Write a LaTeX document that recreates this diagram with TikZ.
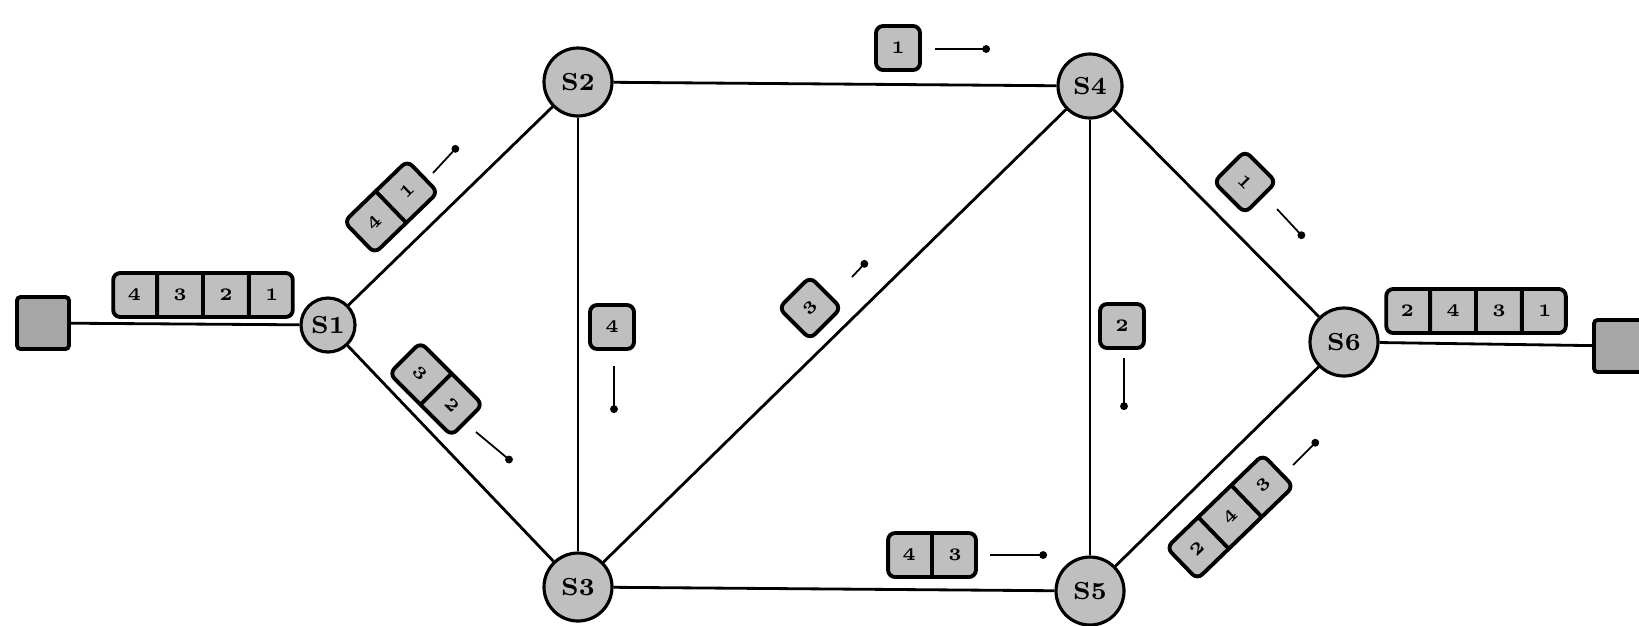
\documentclass[tikz,border=0pt]{standalone}
\usetikzlibrary{arrows.meta, positioning, shapes.multipart}

\begin{document}
\begin{tikzpicture}[
    x=0.1mm, y=-0.1mm,
    font=\scriptsize\bfseries,
    % Stations and switches
    switch/.style={draw, circle, fill=black!25, line width=0.9pt, minimum size=6.8mm, inner sep=0pt},
    host/.style  ={draw, fill=black!35, line width=1.1pt, rounded corners=1pt, minimum size=5.2mm},
    % Packets
    pkt/.style   ={draw, fill=black!25, line width=1.1pt, rounded corners=2pt, minimum size=4.4mm,
                   inner sep=0pt, font=\tiny\bfseries},
    pkts/.style  ={pkt, rectangle split, rectangle split horizontal, rectangle split parts=#1,
                   text width=4.2mm, align=center, minimum height=4.4mm},
    % Links and motion marks
    link/.style  ={line width=0.8pt},
    move/.style  ={line width=0.5pt, -{Circle[length=2.2pt]}}
]
\useasboundingbox (0,0) rectangle (1639,625);

% --------------------------- Network ---------------------------------
\node[host]   (src) at (43,323)  {};
\node[switch, minimum size=5.4mm] (s1) at (328,325) {S1};
\node[switch] (s2)  at (578,82)  {S2};
\node[switch] (s3)  at (578,587) {S3};
\node[switch, minimum size=6.4mm] (s4) at (1090,86) {S4};
\node[switch] (s5)  at (1090,591) {S5};
\node[switch] (s6)  at (1344,342) {S6};
\node[host]   (dst) at (1620,346) {};

\draw[link] (src) -- (s1);
\draw[link] (s1) -- (s2);
\draw[link] (s1) -- (s3);
\draw[link] (s2) -- (s4);
\draw[link] (s2) -- (s3);
\draw[link] (s3) -- (s4);
\draw[link] (s3) -- (s5);
\draw[link] (s4) -- (s5);
\draw[link] (s4) -- (s6);
\draw[link] (s5) -- (s6);
\draw[link] (s6) -- (dst);

% --------------------------- Packets ---------------------------------
\node[pkts=4] (qsrc) at (203,295) {4\nodepart{two}3\nodepart{three}2\nodepart{four}1};
\node[pkts=2, rotate=44]  (q12) at (391,207) {4\nodepart{two}1};
\node[pkts=2, rotate=-45] (q13) at (436,389) {3\nodepart{two}2};
\node[pkt]                (q23) at (612,327) {4};
\node[pkt, rotate=45]     (q34) at (810,308) {3};
\node[pkt]                (q24) at (898,48)  {1};
\node[pkt, rotate=-45]    (q46) at (1245,182) {1};
\node[pkt]                (q45) at (1122,326) {2};
\node[pkts=2]             (q35) at (932,555) {4\nodepart{two}3};
\node[pkts=3, rotate=44]  (q56) at (1230,517) {2\nodepart{two}4\nodepart{three}3};
\node[pkts=4] (qdst) at (1476,311) {2\nodepart{two}4\nodepart{three}3\nodepart{four}1};

% Direction of travel
\coordinate (a12) at (433,173);  \coordinate (b12) at (458,146);
\coordinate (a13) at (476,432);  \coordinate (b13) at (512,462);
\coordinate (a23) at (614,366);  \coordinate (b23) at (614,413);
\coordinate (a34) at (852,277);  \coordinate (b34) at (867,261);
\coordinate (a24) at (935,49);   \coordinate (b24) at (990,49);
\coordinate (a46) at (1277,209); \coordinate (b46) at (1304,238);
\coordinate (a45) at (1124,358); \coordinate (b45) at (1124,410);
\coordinate (a35) at (990,555);  \coordinate (b35) at (1047,555);
\coordinate (a56) at (1293,465); \coordinate (b56) at (1318,440);

\foreach \e in {12,13,23,34,24,46,45,35,56}
    \draw[move] (a\e) -- (b\e);

\end{tikzpicture}
\end{document}
